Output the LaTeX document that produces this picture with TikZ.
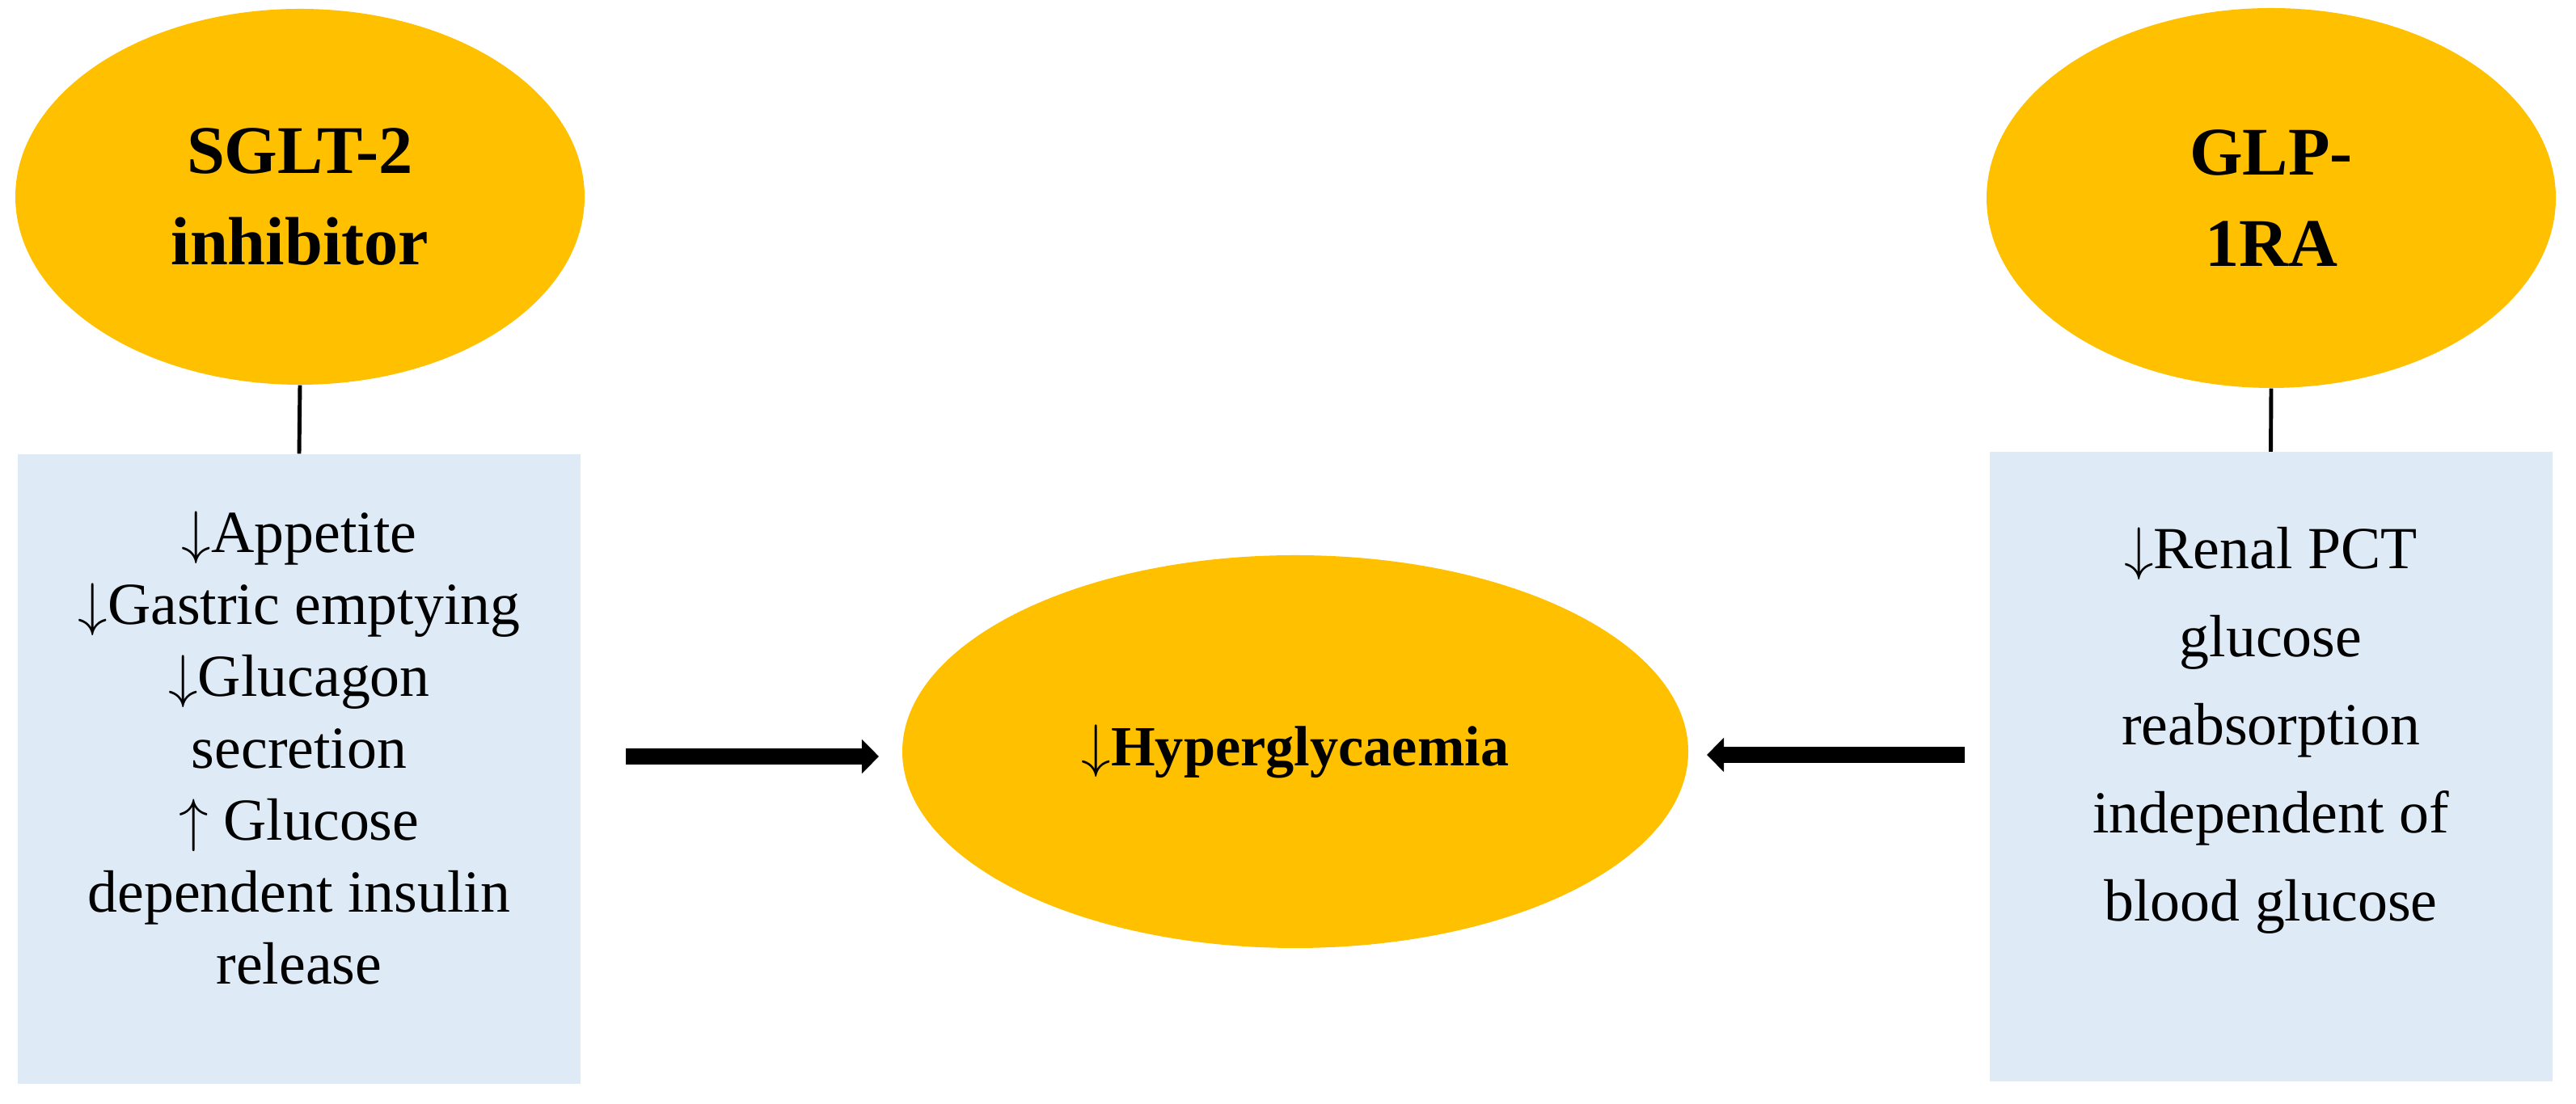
\documentclass[tikz,border=0pt]{standalone}
\usepackage{fontspec}
\setmainfont{Liberation Serif}
\usetikzlibrary{shapes.geometric, positioning, arrows.meta}
\definecolor{drugGold}{HTML}{FFC000}
\definecolor{effectBlue}{HTML}{DEEAF6}
\newcommand{\dn}{$\downarrow$}
\newcommand{\upar}{$\uparrow$}

\begin{document}
\begin{tikzpicture}[
  drug/.style={ellipse, fill=drugGold, inner sep=0pt, align=center,
    font=\bfseries\fontsize{24}{32}\selectfont},
  effect/.style={rectangle, fill=effectBlue, inner sep=0pt,
    minimum width=6.96cm, minimum height=7.79cm},
  effecttext/.style={align=center, font=\fontsize{21}{25.3}\selectfont},
  link/.style={line width=1.4pt},
  bigarrow/.style={line width=5.7pt, -{Triangle[length=6pt, width=11.7pt]}}
]
  \useasboundingbox (0,0) rectangle (31.86,13.66);

  % Os dois farmacos no topo
  \node[drug, minimum width=7.04cm, minimum height=4.65cm] (sglt) at (3.71, 11.225) {SGLT-2\\inhibitor};
  \node[drug, minimum width=7.04cm, minimum height=4.70cm] (glp) at (28.09, 11.21) {GLP-\\1RA};

  % Caixas com os efeitos
  \node[effect] (leftbox) at (3.70, 4.145) {};
  \node[effecttext] (lefttext) at ([yshift=0.26cm]leftbox.center)
    {\dn Appetite\\\dn Gastric emptying\\\dn Glucagon\\secretion\\\upar\ Glucose\\dependent insulin\\release};
  \node[effect] (rightbox) at (28.085, 4.17) {};
  \node[effecttext, font=\fontsize{21}{31}\selectfont] (righttext) at ([yshift=0.45cm]rightbox.center)
    {\dn Renal PCT\\glucose\\reabsorption\\independent of\\blood glucose};

  % Resultado no centro
  \node[drug, minimum width=9.72cm, minimum height=4.86cm, font=\bfseries\fontsize{20}{24}\selectfont]
    (hyper) at (16.02, 4.36) {\dn Hyperglycaemia};

  % Ligacoes e setas
  \draw[link] (sglt.south) -- (leftbox.north);
  \draw[link] (glp.south) -- (rightbox.north);
  \coordinate (la) at (7.74, 4.30);
  \coordinate (lb) at (10.87, 4.30);
  \coordinate (ra) at (24.30, 4.32);
  \coordinate (rb) at (21.11, 4.32);
  \draw[bigarrow] (la) -- (lb);
  \draw[bigarrow] (ra) -- (rb);
\end{tikzpicture}
\end{document}
